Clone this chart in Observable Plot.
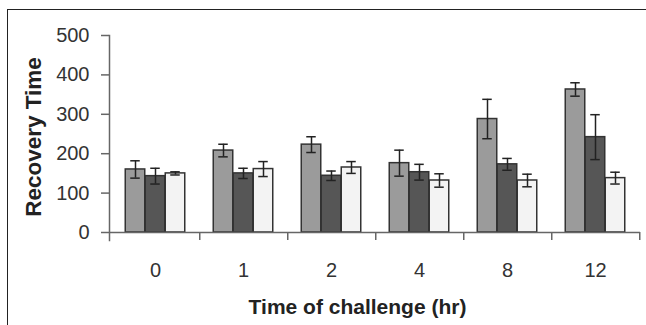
<!DOCTYPE html>
<html>
<head>
<meta charset="utf-8">
<script src="https://cdn.jsdelivr.net/npm/d3@7"></script>
<script src="https://cdn.jsdelivr.net/npm/@observablehq/plot@0.6"></script>
<style>
  html, body { margin: 0; padding: 0; background: #fff; overflow: hidden; }
  #wrap { position: relative; width: 646px; height: 325px; overflow: hidden; }
  #border { position: absolute; left: 7px; top: 9px; width: 700px; height: 400px; border: 1.5px solid #222; box-sizing: border-box; pointer-events: none; }
  #chart { position: absolute; left: 0; top: 0; }
</style>
</head>
<body>
<div id="wrap"><div id="chart"></div><div id="border"></div></div>
<script>
const categories = ["0", "1", "2", "4", "8", "12"];
const seriesNames = ["light", "dark", "white"];
const lightValues = [160, 208, 223, 176, 288, 363];
const lightErrors = [22, 16, 20, 33, 50, 17];
const darkValues  = [143, 150, 144, 153, 173, 242];
const darkErrors  = [20, 13, 12, 20, 15, 57];
const whiteValues = [150, 161, 165, 132, 132, 138];
const whiteErrors = [4, 19, 15, 17, 16, 15];
const yTicks = [0, 100, 200, 300, 400, 500];

const seriesValues = [lightValues, darkValues, whiteValues];
const seriesErrors = [lightErrors, darkErrors, whiteErrors];
const fills = ["#9b9b9b", "#565656", "#f3f3f3"];

const width = 646, height = 325;
const marginLeft = 109, marginRight = 6, marginTop = 35, marginBottom = 93;
const innerW = width - marginLeft - marginRight;
const bw = innerW / categories.length;
const barW = 20;
const groupPad = (bw - seriesNames.length * barW) / 2;
const font = "'Liberation Sans', Arial, sans-serif";

const rows = [];
seriesNames.forEach((s, k) => {
  categories.forEach((c, i) => {
    rows.push({cat: c, series: s, k, value: seriesValues[k][i], err: seriesErrors[k][i]});
  });
});

const marks = [];
seriesNames.forEach((s, k) => {
  const d = rows.filter(r => r.k === k);
  const left = groupPad + k * barW;
  const right = bw - left - barW;
  marks.push(Plot.barY(d, {x: "cat", y: "value", fill: fills[k], stroke: "#333", strokeWidth: 1.5, insetLeft: left, insetRight: right}));
});
seriesNames.forEach((s, k) => {
  const d = rows.filter(r => r.k === k);
  const off = groupPad + k * barW + barW / 2 - bw / 2;
  marks.push(Plot.ruleX(d, {x: "cat", y1: r => r.value - r.err, y2: r => r.value + r.err, dx: off, stroke: "#222", strokeWidth: 1.5}));
  marks.push(Plot.tickY(d, {x: "cat", y: r => r.value + r.err, dx: off, insetLeft: bw / 2 - 5, insetRight: bw / 2 - 5, stroke: "#222", strokeWidth: 1.5}));
  marks.push(Plot.tickY(d, {x: "cat", y: r => r.value - r.err, dx: off, insetLeft: bw / 2 - 5, insetRight: bw / 2 - 5, stroke: "#222", strokeWidth: 1.5}));
});

const chart = Plot.plot({
  width, height, marginLeft, marginRight, marginTop, marginBottom,
  style: {fontFamily: font, background: "transparent", overflow: "visible"},
  x: {type: "band", domain: categories, paddingInner: 0, paddingOuter: 0},
  y: {domain: [0, 500]},
  marks: [
    ...marks,
    Plot.ruleY([0], {stroke: "#666", strokeWidth: 1.5}),
    Plot.frame({anchor: "left", stroke: "#666", strokeWidth: 1.5, insetBottom: -8}),
    Plot.axisX(categories, {tickSize: 8, dx: bw / 2, tickFormat: () => "", stroke: "#666", strokeWidth: 1.5, label: null}),
    Plot.axisX({tickSize: 0, tickPadding: 30, fontSize: 20, color: "#333", label: null}),
    Plot.axisY({ticks: yTicks, tickSize: 8, tickPadding: 12, fontSize: 20, color: "#333", stroke: "#666", strokeWidth: 1.5, label: null}),
    Plot.text(["Recovery Time"], {frameAnchor: "left", textAnchor: "middle", lineAnchor: "middle", rotate: -90, dx: -76, dy: 3, fontSize: 22.5, fontWeight: "bold", fill: "#222"}),
    Plot.text(["Time of challenge (hr)"], {frameAnchor: "bottom", textAnchor: "middle", lineAnchor: "middle", dx: -17.5, dy: 75, fontSize: 21, fontWeight: "bold", fill: "#222"})
  ]
});
document.getElementById("chart").appendChild(chart);
</script>
</body>
</html>
